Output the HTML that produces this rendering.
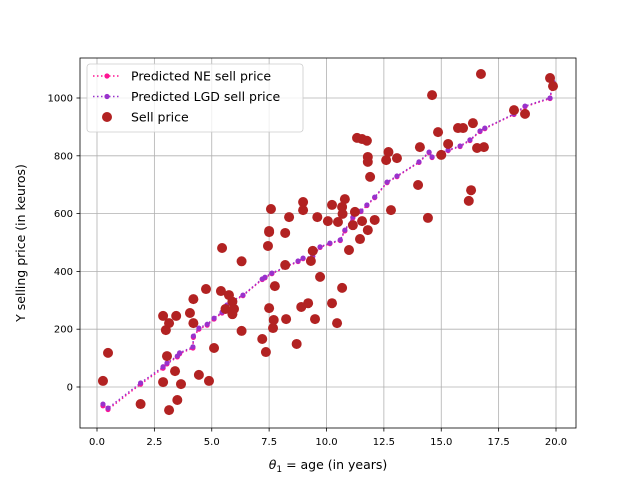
<!DOCTYPE html>
<html><head><meta charset="utf-8"><style>
body{margin:0;background:#fff;font-family:"Liberation Sans","DejaVu Sans",sans-serif;}
svg text{font-family:"DejaVu Sans","Liberation Sans",sans-serif;}
</style></head><body>
<svg id="chart" width="640" height="480" xmlns="http://www.w3.org/2000/svg"></svg>
<script>
const xTicks=[0,2.5,5,7.5,10,12.5,15,17.5,20];
const xTickLabels=["0.0","2.5","5.0","7.5","10.0","12.5","15.0","17.5","20.0"];
const yTicks=[0,200,400,600,800,1000];
const yTickLabels=["0","200","400","600","800","1000"];
const sellX=[0.26,0.48,1.9,2.88,2.88,3.0,3.05,3.14,3.14,3.45,3.4,3.5,3.66,4.05,4.2,4.2,4.44,4.75,4.88,5.1,5.45,5.4,5.6,5.75,5.9,5.9,5.97,6.3,6.3,7.2,7.36,7.5,7.45,7.75,7.7,7.67,7.58,7.5,8.2,8.37,8.98,8.98,9.6,10.24,10.8,10.68,10.7,10.06,10.5,11.24,11.55,11.15,11.8,12.1,11.46,10.98,9.4,9.32,8.2,9.72,10.68,7.5,8.9,9.2,10.24,8.24,9.5,10.46,8.7,11.8,11.8,12.6,13.07,12.7,11.9,13.99,12.81,14.42,16.73,19.74,19.87,14.6,18.17,18.65,16.38,14.86,15.73,15.95,15.3,15.0,14.07,16.56,16.86,16.3,16.2,11.33,11.55,11.76];
const sellY=[21,118,-59,246,17,197,107,221,-80,246,55,-45,10,256,304,221,42,339,21,135,481,332,270,318,295,252,270,435,194,166,121,536,488,349,232,204,616,540,533,588,640,612,588,630,650,623,599,574,571,606,574,560,543,578,512,474,471,436,422,381,343,273,277,290,290,235,235,221,149,796,779,785,792,813,727,699,612,585,1083,1069,1041,1010,958,945,913,882,896,896,841,803,830,827,830,681,644,862,858,852];
const predX=[0.26,0.48,1.9,2.88,3.05,3.5,3.6,4.18,4.2,4.44,4.8,5.1,5.45,5.66,5.8,6.36,7.2,7.32,7.62,8.76,8.98,9.4,9.72,10.15,10.6,10.8,11.15,11.5,11.76,12.1,12.64,13.07,14.03,14.47,14.6,15.3,15.82,16.25,16.69,16.9,18.17,18.65,19.74,19.87];
const lgdY=[-59,-73,14,70,83,107,118,139,176,204,217,238,259,284,294,318,374,380,394,436,446,453,485,498,509,543,588,609,630,657,709,730,779,813,796,820,834,855,886,896,945,972,1000,1055];
const neY=[-65,-78,10,65,80,104,115,135,172,200,214,235,256,281,291,316,372,378,392,434,444,451,483,496,507,540,585,607,628,655,707,728,777,811,794,818,832,853,884,894,943,970,998,1050];
const L=80,R=576,T=58,B=428;
function sx(v){return 97+v*(556-97)/20;}
function sy(v){return 387-v*(387-98)/1000;}
const svg=document.getElementById('chart');const NS="http://www.w3.org/2000/svg";
function mk(tag,attrs,parent){const e=document.createElementNS(NS,tag);for(const k in attrs)e.setAttribute(k,attrs[k]);(parent||svg).appendChild(e);return e;}
const grid=mk('g',{});


xTicks.forEach((t,i)=>{const x=sx(t);
 mk('line',{x1:x,x2:x,y1:T,y2:B,stroke:'#b0b0b0','stroke-width':0.8},grid);
 mk('line',{x1:x,x2:x,y1:B,y2:B+3.5,stroke:'#000','stroke-width':0.8});
 const tx=mk('text',{x:x,y:B+17,'font-size':10,'text-anchor':'middle'});tx.textContent=xTickLabels[i];
 
 
});
yTicks.forEach((t,i)=>{const y=sy(t);
 mk('line',{x1:L,x2:R,y1:y,y2:y,stroke:'#b0b0b0','stroke-width':0.8},grid);
 mk('line',{x1:L-3.5,x2:L,y1:y,y2:y,stroke:'#000','stroke-width':0.8});
 const tx=mk('text',{x:L-7,y:y+3.5,'font-size':10,'text-anchor':'end'});tx.textContent=yTickLabels[i];
 
 
});
function series(xs,ys,color,name){
 const g=mk('g',{});
 
 
 mk('polyline',{points:xs.map((x,i)=>sx(x)+','+sy(ys[i])).join(' '),fill:'none',stroke:color,'stroke-width':1.5,'stroke-dasharray':'1.5,2.5'},g);
 xs.forEach((x,i)=>{const c=mk('circle',{cx:sx(x),cy:sy(ys[i]),r:2.6,fill:color},g);
  
  });
}
series(predX,neY,'#ff1493','ne-prediction-series');
series(predX,lgdY,'#9932cc','lgd-prediction-series');
const sg=mk('g',{});


sellX.forEach((x,i)=>{const c=mk('circle',{cx:sx(x),cy:sy(sellY[i]),r:5,fill:'#b22222'},sg);
 
 });
mk('rect',{x:L,y:T,width:R-L,height:B-T,fill:'none',stroke:'#000','stroke-width':0.8});
// legend
const lg=mk('g',{});


mk('rect',{x:87,y:64,width:216,height:68,rx:3,fill:'#fff','fill-opacity':0.8,stroke:'#ccc','stroke-width':0.8},lg);
const items=[['Predicted NE sell price','#ff1493','line'],['Predicted LGD sell price','#9932cc','line'],['Sell price','#b22222','dot']];
items.forEach((it,i)=>{const y=76+i*20.5;
 const e=mk('g',{},lg);
 
 
 if(it[2]=='line'){mk('line',{x1:93,x2:121,y1:y,y2:y,stroke:it[1],'stroke-width':1.5,'stroke-dasharray':'1.5,2.5'},e);mk('circle',{cx:107,cy:y,r:2.6,fill:it[1]},e);}
 else mk('circle',{cx:107,cy:y,r:5,fill:it[1]},e);
 const t=mk('text',{x:131,y:y+4.5,'font-size':12.5},e);t.textContent=it[0];});
</script>
<svg style="position:absolute;left:0;top:0" width="640" height="480">
<text x="328" y="469" font-size="12.5" text-anchor="middle"><tspan font-style="italic">θ</tspan><tspan font-size="9" dy="3">1</tspan><tspan dy="-3"> = age (in years)</tspan></text>
<text transform="translate(25,243) rotate(-90)" font-size="12.5" text-anchor="middle">Y selling price (in keuros)</text>
</svg>
</body></html>
